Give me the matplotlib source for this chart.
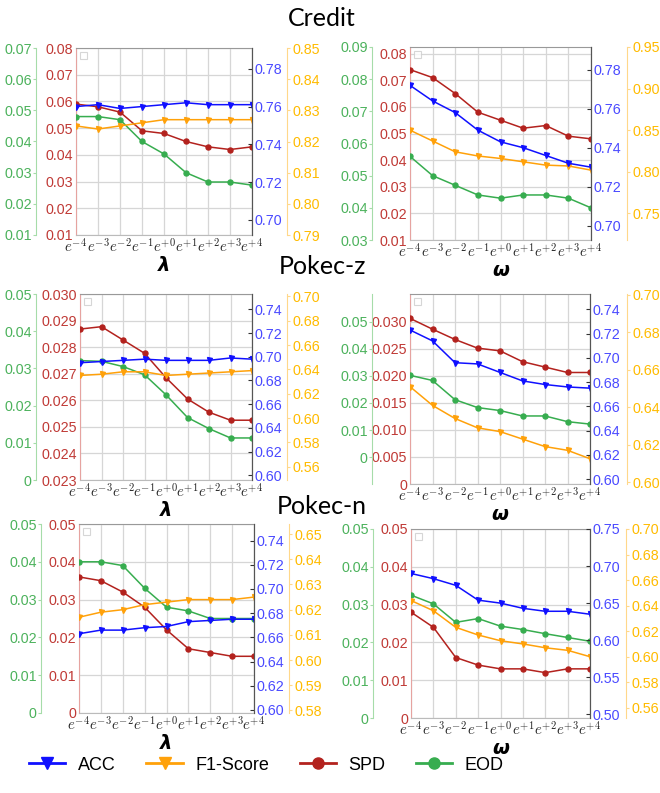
import numpy as np
import matplotlib
matplotlib.use('Agg')
import matplotlib.pyplot as plt
from matplotlib.lines import Line2D
from matplotlib.ticker import FixedLocator, FuncFormatter

plt.rcParams['mathtext.fontset'] = 'cm'

# ---------------- data ----------------
exponents = [-4, -3, -2, -1, 0, 1, 2, 3, 4]
x_tick_labels = [f'$e^{{{e:+d}}}$' for e in exponents]
dataset_titles = ['Credit', 'Pokec-z', 'Pokec-n']
metric_names = ['ACC', 'F1-Score', 'SPD', 'EOD']

credit_lam_acc = [0.760, 0.761, 0.759, 0.760, 0.761, 0.762, 0.761, 0.761, 0.761]
credit_lam_f1 = [0.825, 0.824, 0.825, 0.826, 0.827, 0.827, 0.827, 0.827, 0.827]
credit_lam_spd = [0.059, 0.058, 0.056, 0.049, 0.048, 0.045, 0.043, 0.042, 0.043]
credit_lam_eod = [0.048, 0.048, 0.047, 0.040, 0.036, 0.030, 0.027, 0.027, 0.026]

credit_omg_acc = [0.772, 0.764, 0.758, 0.749, 0.743, 0.740, 0.736, 0.732, 0.730]
credit_omg_f1 = [0.850, 0.837, 0.824, 0.819, 0.816, 0.812, 0.808, 0.807, 0.802]
credit_omg_spd = [0.074, 0.071, 0.065, 0.058, 0.055, 0.052, 0.053, 0.049, 0.048]
credit_omg_eod = [0.056, 0.050, 0.047, 0.044, 0.043, 0.044, 0.044, 0.043, 0.040]

pokz_lam_acc = [0.695, 0.696, 0.697, 0.698, 0.697, 0.697, 0.697, 0.699, 0.698]
pokz_lam_f1 = [0.635, 0.636, 0.638, 0.638, 0.635, 0.636, 0.637, 0.638, 0.639]
pokz_lam_spd = [0.02868, 0.02877, 0.02827, 0.02777, 0.02685, 0.02605, 0.02555, 0.02525, 0.02525]
pokz_lam_eod = [0.0321, 0.0319, 0.0305, 0.0283, 0.0229, 0.0168, 0.0138, 0.0113, 0.0113]

pokz_omg_acc = [0.723, 0.714, 0.696, 0.695, 0.688, 0.681, 0.678, 0.676, 0.675]
pokz_omg_f1 = [0.651, 0.641, 0.634, 0.629, 0.627, 0.623, 0.619, 0.617, 0.6125]
pokz_omg_spd = [0.0306, 0.0286, 0.0267, 0.0251, 0.0246, 0.0226, 0.0216, 0.0206, 0.0206]
pokz_omg_eod = [0.0302, 0.0283, 0.0212, 0.0183, 0.0172, 0.0152, 0.0152, 0.0131, 0.0122]

pokn_lam_acc = [0.663, 0.666, 0.666, 0.668, 0.669, 0.673, 0.674, 0.675, 0.675]
pokn_lam_f1 = [0.617, 0.619, 0.620, 0.622, 0.623, 0.624, 0.624, 0.624, 0.625]
pokn_lam_spd = [0.036, 0.035, 0.032, 0.028, 0.022, 0.017, 0.016, 0.015, 0.015]
pokn_lam_eod = [0.040, 0.040, 0.039, 0.033, 0.028, 0.027, 0.025, 0.025, 0.025]

pokn_omg_acc = [0.690, 0.683, 0.674, 0.654, 0.650, 0.643, 0.639, 0.639, 0.635]
pokn_omg_f1 = [0.644, 0.636, 0.623, 0.617, 0.6125, 0.610, 0.607, 0.605, 0.600]
pokn_omg_spd = [0.028, 0.024, 0.016, 0.014, 0.013, 0.013, 0.012, 0.013, 0.013]
pokn_omg_eod = [0.0325, 0.0302, 0.0253, 0.0263, 0.0243, 0.0234, 0.0223, 0.0213, 0.0203]

# axis limits / ticks: (red SPD, green EOD, blue ACC, orange F1)
credit_lam_spd_ticks = [0.01, 0.02, 0.03, 0.04, 0.05, 0.06, 0.07, 0.08]
credit_lam_eod_ticks = [0.01, 0.02, 0.03, 0.04, 0.05, 0.06, 0.07]
credit_lam_acc_ticks = [0.70, 0.72, 0.74, 0.76, 0.78]
credit_lam_f1_ticks = [0.79, 0.80, 0.81, 0.82, 0.83, 0.84, 0.85]
credit_lam_lims = [(0.01, 0.08), (0.01, 0.07), (0.692, 0.791), (0.79, 0.85)]

credit_omg_spd_ticks = [0.01, 0.02, 0.03, 0.04, 0.05, 0.06, 0.07, 0.08]
credit_omg_eod_ticks = [0.03, 0.04, 0.05, 0.06, 0.07, 0.08, 0.09]
credit_omg_acc_ticks = [0.70, 0.72, 0.74, 0.76, 0.78]
credit_omg_f1_ticks = [0.75, 0.80, 0.85, 0.90, 0.95]
credit_omg_lims = [(0.01, 0.0825), (0.03, 0.09), (0.6926, 0.7917), (0.718, 0.95)]

pokz_lam_spd_ticks = [0.023, 0.024, 0.025, 0.026, 0.027, 0.028, 0.029, 0.030]
pokz_lam_eod_ticks = [0.0, 0.01, 0.02, 0.03, 0.04, 0.05]
pokz_lam_acc_ticks = [0.60, 0.62, 0.64, 0.66, 0.68, 0.70, 0.72, 0.74]
pokz_lam_f1_ticks = [0.56, 0.58, 0.60, 0.62, 0.64, 0.66, 0.68, 0.70]
pokz_lam_lims = [(0.023, 0.030), (0.0, 0.05), (0.596, 0.753), (0.549, 0.702)]

pokz_omg_spd_ticks = [0.0, 0.005, 0.010, 0.015, 0.020, 0.025, 0.030]
pokz_omg_eod_ticks = [0.0, 0.01, 0.02, 0.03, 0.04, 0.05]
pokz_omg_acc_ticks = [0.60, 0.62, 0.64, 0.66, 0.68, 0.70, 0.72, 0.74]
pokz_omg_f1_ticks = [0.60, 0.62, 0.64, 0.66, 0.68, 0.70]
pokz_omg_lims = [(0.0, 0.0351), (-0.0099, 0.0602), (0.5959, 0.7527), (0.599, 0.7005)]

pokn_lam_spd_ticks = [0.0, 0.01, 0.02, 0.03, 0.04, 0.05]
pokn_lam_eod_ticks = [0.0, 0.01, 0.02, 0.03, 0.04, 0.05]
pokn_lam_acc_ticks = [0.60, 0.62, 0.64, 0.66, 0.68, 0.70, 0.72, 0.74]
pokn_lam_f1_ticks = [0.58, 0.59, 0.60, 0.61, 0.62, 0.63, 0.64, 0.65]
pokn_lam_lims = [(0.0, 0.05), (0.0, 0.05), (0.5975, 0.7537), (0.579, 0.654)]

pokn_omg_spd_ticks = [0.0, 0.01, 0.02, 0.03, 0.04, 0.05]
pokn_omg_eod_ticks = [0.0, 0.01, 0.02, 0.03, 0.04, 0.05]
pokn_omg_acc_ticks = [0.50, 0.55, 0.60, 0.65, 0.70, 0.75]
pokn_omg_f1_ticks = [0.56, 0.58, 0.60, 0.62, 0.64, 0.66, 0.68, 0.70]
pokn_omg_lims = [(0.0, 0.05), (0.0, 0.05), (0.495, 0.75), (0.552, 0.70)]

# ---------------- style ----------------
W, H = 660, 793
C_ACC, C_F1, C_SPD, C_EOD = '#1010ff', '#ffa10a', '#b3221e', '#37ad4f'
L_ACC, L_F1, L_SPD, L_EOD = '#4a4aff', '#ffbb00', '#c03a36', '#4cb25c'
TICKFONT = ['Liberation Sans', 'DejaVu Sans']
TS = 10.3

fig = plt.figure(figsize=(W / 100, H / 100), dpi=100)


def px_rect(l, t, r, b):
    return [l / W, 1 - b / H, (r - l) / W, (b - t) / H]


def fmt(dec):
    return FuncFormatter(lambda v, p: '0' if abs(v) < 1e-12 else f'{v:.{dec}f}')


def style_labels(a):
    for lab in a.get_yticklabels():
        lab.set_family(TICKFONT)


def panel(rect, xlabel, acc, f1, spd, eod, ticks, lims, decs, g_off, o_off):
    ax = fig.add_axes(px_rect(*rect))
    x = np.arange(len(exponents))
    # host: SPD (red)
    ax.set_xlim(x[0], x[-1])
    ax.set_xticks(x)
    ax.set_xticklabels(x_tick_labels, fontsize=10.8, color='#222222')
    ax.tick_params(axis='x', length=0, pad=2)
    ax.grid(True, color='#d6d6d6', lw=0.9)
    ax.set_axisbelow(True)
    ax.set_ylim(*lims[0])
    ax.yaxis.set_major_locator(FixedLocator(ticks[0]))
    ax.yaxis.set_major_formatter(fmt(decs[0]))
    ax.tick_params(axis='y', length=0, pad=2, labelcolor=L_SPD, labelsize=TS)
    style_labels(ax)
    ax.spines['left'].set_color('#e6a3a0')
    ax.spines['top'].set_color('#999999')
    ax.spines['bottom'].set_color('#bbbbbb')
    ax.spines['right'].set_color('#555555')
    ax.set_xlabel(xlabel, fontsize=14, labelpad=0, fontweight='bold', fontstyle='italic',
                  family='DejaVu Sans')
    ax.plot(x, spd, color=C_SPD, marker='o', ms=3.6, lw=1.1, zorder=5)

    # green EOD on outer left
    ag = ax.twinx()
    ag.yaxis.set_ticks_position('left')
    ag.yaxis.set_label_position('left')
    ag.spines['left'].set_position(('outward', g_off * 0.72))
    ag.spines['left'].set_visible(True)
    for s in ('right', 'top', 'bottom'):
        ag.spines[s].set_visible(False)
    ag.spines['left'].set_color('#a6dca9')
    ag.set_ylim(*lims[1])
    ag.yaxis.set_major_locator(FixedLocator(ticks[1]))
    ag.yaxis.set_major_formatter(fmt(decs[1]))
    ag.tick_params(axis='y', length=2, pad=1, color='#a6dca9', labelcolor=L_EOD, labelsize=TS)
    style_labels(ag)
    ag.plot(x, eod, color=C_EOD, marker='o', ms=3.6, lw=1.1)

    # blue ACC at right edge
    ab = ax.twinx()
    for s in ('left', 'top', 'bottom'):
        ab.spines[s].set_visible(False)
    ab.spines['right'].set_color('#555555')
    ab.set_ylim(*lims[2])
    ab.yaxis.set_major_locator(FixedLocator(ticks[2]))
    ab.yaxis.set_major_formatter(fmt(decs[2]))
    ab.tick_params(axis='y', length=3, direction='in', pad=2, color='#333333',
                   labelcolor=L_ACC, labelsize=TS)
    style_labels(ab)
    ab.plot(x, acc, color=C_ACC, marker='v', ms=3.6, lw=1.1)

    # orange F1 on outer right
    ao = ax.twinx()
    ao.spines['right'].set_position(('outward', o_off * 0.72))
    for s in ('left', 'top', 'bottom'):
        ao.spines[s].set_visible(False)
    ao.spines['right'].set_color('#ffd88a')
    ao.set_ylim(*lims[3])
    ao.yaxis.set_major_locator(FixedLocator(ticks[3]))
    ao.yaxis.set_major_formatter(fmt(decs[3]))
    ao.tick_params(axis='y', length=2, pad=2, color='#ffd88a', labelcolor=L_F1, labelsize=TS)
    style_labels(ao)
    ao.plot(x, f1, color=C_F1, marker='v', ms=3.6, lw=1.1)
    ag.set_zorder(2); ao.set_zorder(3); ab.set_zorder(4)
    ab.patch.set_visible(False); ao.patch.set_visible(False); ag.patch.set_visible(False)

    leg = ab.legend(handles=[], loc='upper left', frameon=True, fancybox=False,
                    borderpad=0.25, borderaxespad=0.3)
    leg.get_frame().set_edgecolor('#cccccc')
    leg.get_frame().set_linewidth(0.8)
    return ax


lam = 'λ'
omg = 'ω'

panel((76, 48, 252, 235), lam, credit_lam_acc, credit_lam_f1, credit_lam_spd, credit_lam_eod,
      [credit_lam_spd_ticks, credit_lam_eod_ticks, credit_lam_acc_ticks, credit_lam_f1_ticks],
      credit_lam_lims, [2, 2, 2, 2], 40, 35)
panel((410, 47, 591, 240), omg, credit_omg_acc, credit_omg_f1, credit_omg_spd, credit_omg_eod,
      [credit_omg_spd_ticks, credit_omg_eod_ticks, credit_omg_acc_ticks, credit_omg_f1_ticks],
      credit_omg_lims, [2, 2, 2, 2], 38, 36)
panel((80, 294, 252, 480), lam, pokz_lam_acc, pokz_lam_f1, pokz_lam_spd, pokz_lam_eod,
      [pokz_lam_spd_ticks, pokz_lam_eod_ticks, pokz_lam_acc_ticks, pokz_lam_f1_ticks],
      pokz_lam_lims, [3, 2, 2, 2], 44, 35)
panel((410, 294, 590, 484), omg, pokz_omg_acc, pokz_omg_f1, pokz_omg_spd, pokz_omg_eod,
      [pokz_omg_spd_ticks, pokz_omg_eod_ticks, pokz_omg_acc_ticks, pokz_omg_f1_ticks],
      pokz_omg_lims, [3, 2, 2, 2], 38, 37)
panel((79, 524, 254, 713), lam, pokn_lam_acc, pokn_lam_f1, pokn_lam_spd, pokn_lam_eod,
      [pokn_lam_spd_ticks, pokn_lam_eod_ticks, pokn_lam_acc_ticks, pokn_lam_f1_ticks],
      pokn_lam_lims, [2, 2, 2, 2], 38, 35)
panel((411, 529, 590, 718), omg, pokn_omg_acc, pokn_omg_f1, pokn_omg_spd, pokn_omg_eod,
      [pokn_omg_spd_ticks, pokn_omg_eod_ticks, pokn_omg_acc_ticks, pokn_omg_f1_ticks],
      pokn_omg_lims, [2, 2, 2, 2], 38, 36)

# dataset titles
for title, yc in zip(dataset_titles, [19, 266, 507]):
    fig.text(322 / W, 1 - yc / H, title, ha='center', va='center', fontsize=18,
             family=['Lato', 'DejaVu Sans'])

# legend
handles = [
    Line2D([], [], color=C_ACC, marker='v', ms=8, lw=2),
    Line2D([], [], color=C_F1, marker='v', ms=8, lw=2),
    Line2D([], [], color=C_SPD, marker='o', ms=8, lw=2),
    Line2D([], [], color=C_EOD, marker='o', ms=8, lw=2),
]
fig.legend(handles, metric_names, loc='center', bbox_to_anchor=(0.404, 1 - 765 / H), ncol=4,
           frameon=False, handlelength=2.0, columnspacing=1.7, handletextpad=0.7,
           prop={'family': ['Liberation Sans', 'DejaVu Sans'], 'size': 13})

fig.savefig('out.png', dpi=100)
